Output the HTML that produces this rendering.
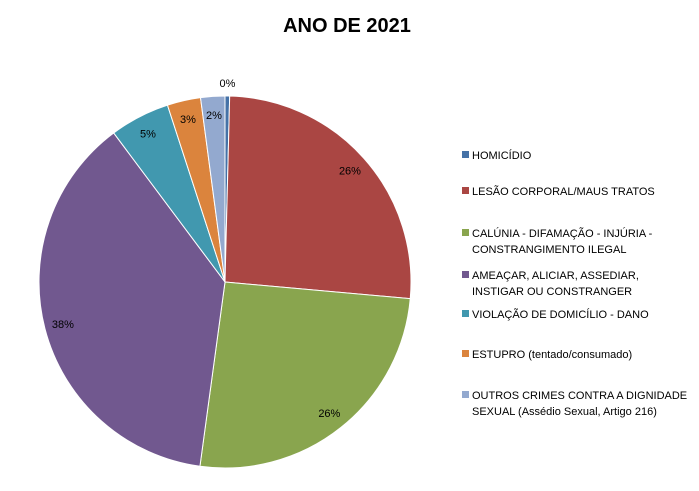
<!DOCTYPE html>
<html><head><meta charset="utf-8"><style>
body{margin:0;background:#fff;font-family:"Liberation Sans",sans-serif;}
</style></head><body>
<svg width="699" height="486" xmlns="http://www.w3.org/2000/svg">
<text x="347" y="32" text-anchor="middle" font-size="20" font-weight="bold" fill="#000">ANO DE 2021</text>
<g id="slices"></g><g id="labels"></g><g id="legend"></g>
</svg>
<script>
const categories=[["HOMICÍDIO"],["LESÃO CORPORAL/MAUS TRATOS"],["CALÚNIA - DIFAMAÇÃO - INJÚRIA -","CONSTRANGIMENTO ILEGAL"],["AMEAÇAR, ALICIAR, ASSEDIAR,","INSTIGAR OU CONSTRANGER"],["VIOLAÇÃO DE DOMICÍLIO - DANO"],["ESTUPRO (tentado/consumado)"],["OUTROS CRIMES CONTRA A DIGNIDADE","SEXUAL (Assédio Sexual, Artigo 216)"]];
const values=[0.4,26,25.7,37.6,5.2,2.9,2.1];
const printed=["0%","26%","26%","38%","5%","3%","2%"];
const colors=["#4572A7","#AA4643","#89A54E","#71588F","#4198AF","#DB843D","#93A9CF"];
const NS="http://www.w3.org/2000/svg";
const cx=225,cy=282,R=186;
const total=values.reduce((a,b)=>a+b,0);
function pt(a,r){return [cx+r*Math.sin(a),cy-r*Math.cos(a)];}
let a0=0;
const gs=document.getElementById('slices'),gl=document.getElementById('labels'),gg=document.getElementById('legend');
values.forEach((v,i)=>{
 const a1=a0+v/total*2*Math.PI;
 const p0=pt(a0,R),p1=pt(a1,R);
 const path=document.createElementNS(NS,'path');
 path.setAttribute('d',`M${cx},${cy}L${p0[0]},${p0[1]}A${R},${R} 0 ${a1-a0>Math.PI?1:0} 1 ${p1[0]},${p1[1]}Z`);
 path.setAttribute('fill',colors[i]);path.setAttribute('stroke','#fff');path.setAttribute('stroke-width','1');
 
 
 gs.appendChild(path);
 const am=(a0+a1)/2;const lp=pt(am,v<1?R*1.07:R*0.9);
 const t=document.createElementNS(NS,'text');
 t.setAttribute('x',lp[0]);t.setAttribute('y',lp[1]+4);t.setAttribute('text-anchor','middle');t.setAttribute('font-size','11');
 t.textContent=printed[i];
 
 
 gl.appendChild(t);
 a0=a1;
});
const ly=[155,191,233,275,314,354,395];
categories.forEach((c,i)=>{
 const g=document.createElementNS(NS,'g');
 
 
 const r=document.createElementNS(NS,'rect');
 r.setAttribute('x',462);r.setAttribute('y',ly[i]-4);r.setAttribute('width',7);r.setAttribute('height',7);r.setAttribute('fill',colors[i]);
 g.appendChild(r);
 c.forEach((line,j)=>{
  const t=document.createElementNS(NS,'text');
  t.setAttribute('x',472);t.setAttribute('y',ly[i]+4+j*16);t.setAttribute('font-size','11');t.setAttribute('fill','#000');
  t.textContent=line;g.appendChild(t);
 });
 gg.appendChild(g);
});
</script>
</body></html>
